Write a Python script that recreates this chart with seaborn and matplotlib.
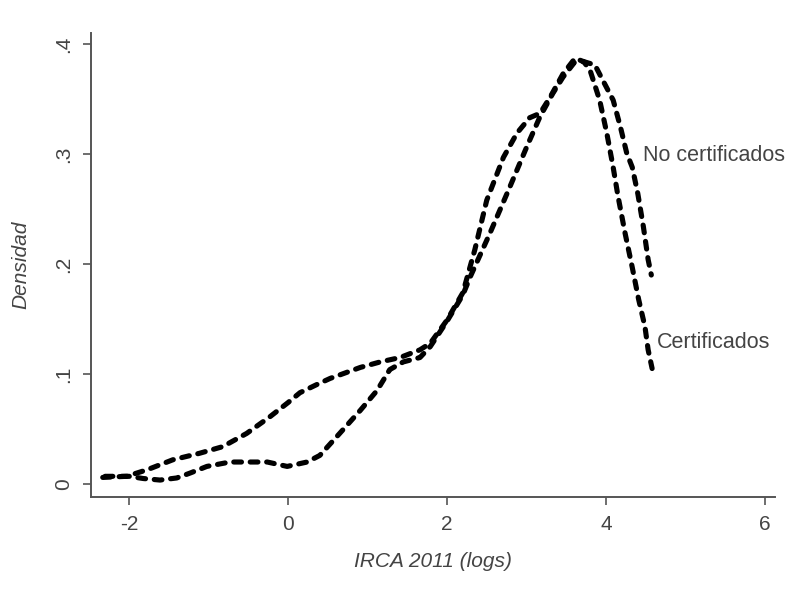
import seaborn as sns
import pandas as pd
import matplotlib
matplotlib.use("Agg")
import matplotlib.pyplot as plt

# density curves (IRCA 2011 in logs)
cert_x = [-2.33, -2.03, -1.77, -1.45, -1.11, -0.82, -0.52, -0.23, 0.0, 0.15, 0.35, 0.53,
          0.72, 0.91, 1.16, 1.41, 1.66, 1.79, 2.0, 2.2, 2.35, 2.5, 2.71, 2.88, 3.04, 3.17,
          3.3, 3.46, 3.61, 3.72, 3.8, 3.92, 4.01, 4.09, 4.15, 4.24, 4.33, 4.41, 4.49, 4.53, 4.58]
cert_y = [0.006, 0.007, 0.013, 0.022, 0.028, 0.034, 0.046, 0.061, 0.074, 0.083, 0.090, 0.096,
          0.101, 0.106, 0.111, 0.115, 0.122, 0.128, 0.149, 0.174, 0.213, 0.258, 0.297, 0.319, 0.333, 0.337,
          0.352, 0.373, 0.387, 0.384, 0.376, 0.349, 0.319, 0.288, 0.262, 0.228, 0.197, 0.168, 0.143, 0.122, 0.105]

nocert_x = [-2.30, -2.0, -1.82, -1.61, -1.40, -1.23, -1.02, -0.73, -0.48, -0.26, -0.01, 0.24,
            0.40, 0.65, 0.91, 1.12, 1.28, 1.45, 1.66, 1.79, 2.0, 2.2, 2.29, 2.54, 2.79, 3.0,
            3.17, 3.33, 3.46, 3.6, 3.72, 3.86, 3.96, 4.09, 4.18, 4.26, 4.33, 4.40, 4.47, 4.53, 4.57]
nocert_y = [0.007, 0.007, 0.005, 0.0036, 0.0055, 0.010, 0.016, 0.020, 0.020, 0.020, 0.016, 0.020,
            0.026, 0.046, 0.067, 0.085, 0.104, 0.111, 0.115, 0.125, 0.148, 0.172, 0.188, 0.228, 0.270, 0.306,
            0.334, 0.355, 0.370, 0.383, 0.384, 0.381, 0.367, 0.349, 0.325, 0.301, 0.288, 0.264, 0.234, 0.204, 0.190]

x_ticks = [-2, 0, 2, 4, 6]
y_ticks = [0, 0.1, 0.2, 0.3, 0.4]
y_tick_labels = ["0", ".1", ".2", ".3", ".4"]

sns.set_style("white")
plt.rcParams["font.family"] = ["Liberation Sans", "DejaVu Sans"]
plt.rcParams["axes.unicode_minus"] = False

fig = plt.figure(figsize=(7.85, 5.94), dpi=100)
ax = fig.add_axes([0.1159, 0.1633, 0.8714, 0.7811])

for xs, ys in [(cert_x, cert_y), (nocert_x, nocert_y)]:
    df = pd.DataFrame({"x": xs, "y": ys})
    sns.lineplot(data=df, x="x", y="y", ax=ax, color="black", linewidth=3.7,
                 estimator=None, sort=False, dashes=False)

for line in ax.get_lines():
    line.set_dashes([1.5, 1.7])
    line.set_dash_capstyle("round")

txt = "#444444"
ax.text(4.47, 0.299, "No certificados", fontsize=15.5, color=txt, va="center", ha="left")
ax.text(4.64, 0.129, "Certificados", fontsize=15.5, color=txt, va="center", ha="left")

ax.set_xlim(-2.478, 6.126)
ax.set_ylim(-0.0118, 0.41)
ax.set_xticks(x_ticks)
ax.set_yticks(y_ticks)
ax.set_yticklabels(y_tick_labels)
plt.setp(ax.get_yticklabels(), rotation=90, va="center")

for side in ["top", "right"]:
    ax.spines[side].set_visible(False)
for side in ["left", "bottom"]:
    ax.spines[side].set_color("#555555")
    ax.spines[side].set_linewidth(1.4)

ax.tick_params(direction="out", length=6, width=1.2, color="#555555",
               labelsize=15, labelcolor=txt, pad=7, left=True, bottom=True)

ax.set_xlabel("IRCA 2011 (logs)", fontsize=15, style="italic", color=txt)
ax.set_ylabel("Densidad", fontsize=15, style="italic", color=txt)
ax.xaxis.set_label_coords(0.5, -0.118)
ax.yaxis.set_label_coords(-0.089, 0.5)

fig.savefig("out.png", dpi=100)
